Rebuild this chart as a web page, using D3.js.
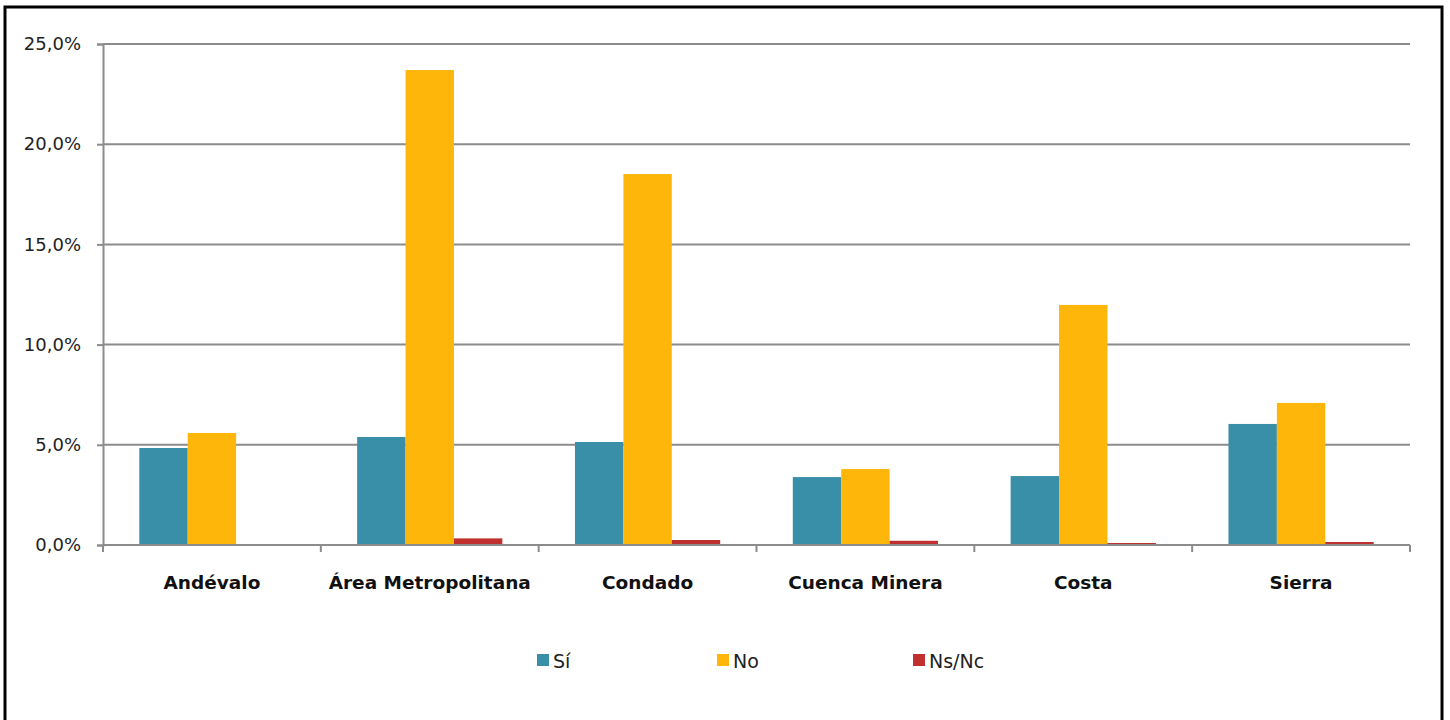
<!DOCTYPE html>
<html><head><meta charset="utf-8">
<script src="https://cdn.jsdelivr.net/npm/d3@7"></script>
<style>body{margin:0;background:#fff}svg{display:block}</style>
</head><body>
<svg id="c" width="1450" height="720"></svg>
<script>
const categories = ["Andévalo","Área Metropolitana","Condado","Cuenca Minera","Costa","Sierra"];
const seriesNames = ["Sí","No","Ns/Nc"];
const si   = [4.84, 5.39, 5.14, 3.39, 3.44, 6.04];
const no   = [5.59, 23.70, 18.51, 3.79, 11.98, 7.09];
const nsnc = [0.0, 0.33, 0.25, 0.21, 0.10, 0.15];
const yTicks = [0,5,10,15,20,25];
const colors = ["#3A8FA8","#FFB60B","#C0302E"];

const svg = d3.select("#c");
const font = "'DejaVu Sans', sans-serif";
svg.append("rect").attr("x",5).attr("y",7).attr("width",1437).attr("height",730)
  .attr("fill","none").attr("stroke","#000").attr("stroke-width",3);

const x0 = d3.scaleBand().domain(categories).range([103,1410]).paddingInner(0).paddingOuter(0);
const x1 = d3.scaleBand().domain(seriesNames).range([0,x0.bandwidth()]).paddingInner(0).paddingOuter(0.75);
const y = d3.scaleLinear().domain([0,25]).range([545,44]);

// gridlines
svg.append("g").selectAll("line").data(yTicks.filter(d=>d>0)).join("line")
  .attr("x1",103).attr("x2",1410).attr("y1",d=>y(d)).attr("y2",d=>y(d))
  .attr("stroke","#8c8c8c").attr("stroke-width",2);

const data = [si,no,nsnc];
const g = svg.append("g");
categories.forEach((c,i)=>{
  seriesNames.forEach((s,j)=>{
    const v = data[j][i];
    if (v<=0) return;
    g.append("rect").attr("x",x0(c)+x1(s)).attr("width",x1.bandwidth())
      .attr("y",y(v)).attr("height",y(0)-y(v)).attr("fill",colors[j]);
  });
});

// y axis
const yAxis = d3.axisLeft(y).tickValues(yTicks).tickSize(6)
  .tickFormat(d=>d3.format(".1f")(d).replace(".",",")+"%");
const ya = svg.append("g").attr("transform","translate(103,0)").call(yAxis);
ya.select(".domain").attr("stroke","#8c8c8c").attr("stroke-width",2);
ya.selectAll(".tick line").attr("stroke","#8c8c8c").attr("stroke-width",2);
ya.selectAll("text").attr("font-family",font).attr("font-size",18).attr("fill","#222").attr("x",-22);

// x axis
const xa = svg.append("g").attr("transform","translate(0,545)");
xa.append("line").attr("x1",103).attr("x2",1410).attr("stroke","#8c8c8c").attr("stroke-width",2);
const bounds = categories.map(c=>x0(c)).concat([x0.range()[1]]);
xa.selectAll("line.t").data(bounds).join("line").attr("class","t")
  .attr("x1",d=>d).attr("x2",d=>d).attr("y1",0).attr("y2",7)
  .attr("stroke","#8c8c8c").attr("stroke-width",2);
xa.selectAll("text").data(categories).join("text")
  .attr("x",d=>x0(d)+x0.bandwidth()/2).attr("y",44)
  .attr("text-anchor","middle").attr("font-family",font).attr("font-weight","bold")
  .attr("font-size",18.5).attr("fill","#111").text(d=>d);

// legend
const legX = [537,717,913];
const leg = svg.append("g");
seriesNames.forEach((s,j)=>{
  leg.append("rect").attr("x",legX[j]).attr("y",654).attr("width",12).attr("height",12).attr("fill",colors[j]);
  leg.append("text").attr("x",legX[j]+16).attr("y",668).attr("font-family",font)
    .attr("font-size",19).attr("fill","#222").text(s);
});
</script>
</body></html>
